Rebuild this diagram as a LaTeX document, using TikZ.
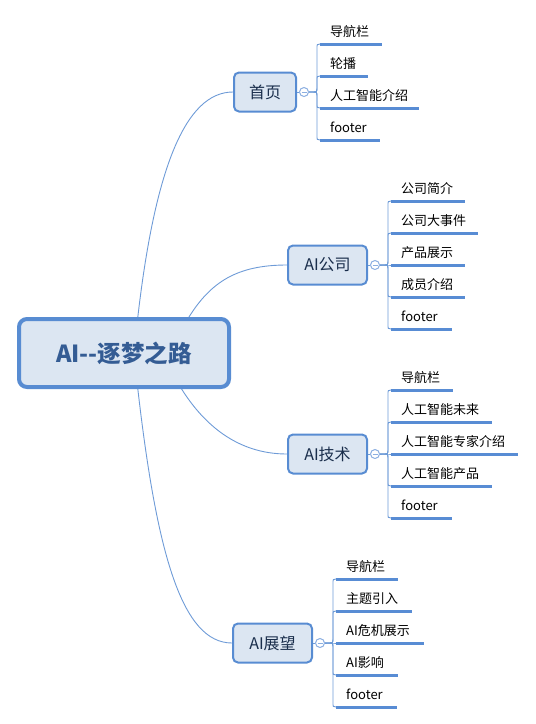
\documentclass[tikz,border=0pt]{standalone}
\usepackage{fontspec}
\setmainfont{Noto Sans CJK SC}
\usetikzlibrary{calc}
\definecolor{boxfill}{RGB}{220,230,242}
\definecolor{boxline}{RGB}{88,140,210}
\definecolor{connc}{RGB}{110,155,215}
\definecolor{leafc}{RGB}{88,140,212}
\definecolor{circc}{RGB}{140,175,225}
\definecolor{roottext}{RGB}{52,92,148}
\definecolor{branchtext}{RGB}{25,45,75}
\tikzset{
  conn/.style={draw=connc, line width=0.9pt},
  leafline/.style={draw=leafc, line width=3pt},
  leaftext/.style={anchor=base west, inner sep=0pt, font=\fontsize{13}{15}\selectfont, text=black},
  rootbox/.style={draw=boxline, fill=boxfill, line width=4pt, rounded corners=8pt,
    minimum width=210pt, minimum height=68pt, inner sep=0pt,
    font=\bfseries\fontsize{23.5}{28}\selectfont, text=roottext},
  branchbox/.style={draw=boxline, fill=boxfill, line width=2pt, rounded corners=5pt,
    minimum height=39pt, inner sep=0pt, font=\fontsize{16}{19}\selectfont, text=branchtext},
  collapse/.style={circle, draw=circc, fill=white, line width=1pt, minimum size=9pt, inner sep=0pt,
    path picture={\draw[circc, line width=0.8pt] ([xshift=-2.5pt]path picture bounding box.center) -- ([xshift=2.5pt]path picture bounding box.center);}}
}
\newcommand\mmleaf[7]{%
  \coordinate (#1) at (#4,#5);
  \node[leaftext] (#1t) at ({#4+10},{#5-7.5}) {#7};
  \draw[leafline] (#1) -- (#6,#5);
  \draw[conn] (#2.east) -- ($(#2.center)+(8,0)$) .. controls ($(#2.center)+(13,0)$) .. ($(#2.center)+(13,{5*#3})$) -- ($(#1)+(-3,{-5*#3})$) .. controls ($(#1)+(-3,0)$) .. (#1);
}
\begin{document}
\begin{tikzpicture}[x=1pt,y=-1pt]
\useasboundingbox (0,0) rectangle (536,724);
% root
\node[rootbox] (root) at (124,353) {AI-{}-逐梦之路};
% branches
\node[branchbox, minimum width=62pt] (b1) at (265,92) {首页};
\node[branchbox, minimum width=79pt] (b2) at (327.5,265) {AI公司};
\node[branchbox, minimum width=79pt] (b3) at (327.5,454) {AI技术};
\node[branchbox, minimum width=79pt] (b4) at (272.5,643) {AI展望};
% collapse circles
\node[collapse] (c1) at ($(b1.east)+(7,0)$) {};
\node[collapse] (c2) at ($(b2.east)+(7,0)$) {};
\node[collapse] (c3) at ($(b3.east)+(7,0)$) {};
\node[collapse] (c4) at ($(b4.east)+(7,0)$) {};
\draw[conn] (b1.east) -- (c1.west);
\draw[conn] (b2.east) -- (c2.west);
\draw[conn] (b3.east) -- (c3.west);
\draw[conn] (b4.east) -- (c4.west);
% main connectors
\draw[conn] (root.69) .. controls +(17,-147) and +(-48,0) .. (b1.west);
\draw[conn] (root.29) .. controls +(22,-35) and +(-50,0) .. (b2.west);
\draw[conn] (root.-32) .. controls +(22,35) and +(-50,0) .. (b3.west);
\draw[conn] (root.-69) .. controls +(19,165) and +(-50,0) .. (b4.west);
% leaves of 首页
\mmleaf{l11}{c1}{-1}{320}{44}{382}{导航栏}
\mmleaf{l12}{c1}{-1}{320}{76}{368}{轮播}
\mmleaf{l13}{c1}{1}{320}{108}{419}{人工智能介绍}
\mmleaf{l14}{c1}{1}{320}{140}{380}{footer}
% leaves of AI公司
\mmleaf{l21}{c2}{-1}{391}{201}{465}{公司简介}
\mmleaf{l22}{c2}{-1}{391}{233}{478}{公司大事件}
\mmleaf{l23}{c2}{0}{391}{265}{465}{产品展示}
\mmleaf{l24}{c2}{1}{391}{297}{465}{成员介绍}
\mmleaf{l25}{c2}{1}{391}{329}{452}{footer}
% leaves of AI技术
\mmleaf{l31}{c3}{-1}{391}{390}{453}{导航栏}
\mmleaf{l32}{c3}{-1}{391}{422}{492}{人工智能未来}
\mmleaf{l33}{c3}{0}{391}{454}{518}{人工智能专家介绍}
\mmleaf{l34}{c3}{1}{391}{486}{492}{人工智能产品}
\mmleaf{l35}{c3}{1}{391}{518}{452}{footer}
% leaves of AI展望
\mmleaf{l41}{c4}{-1}{336}{579}{398}{导航栏}
\mmleaf{l42}{c4}{-1}{336}{611}{412}{主题引入}
\mmleaf{l43}{c4}{0}{336}{643}{424}{AI危机展示}
\mmleaf{l44}{c4}{1}{336}{675}{398}{AI影响}
\mmleaf{l45}{c4}{1}{336}{707}{397}{footer}
\end{tikzpicture}
\end{document}
